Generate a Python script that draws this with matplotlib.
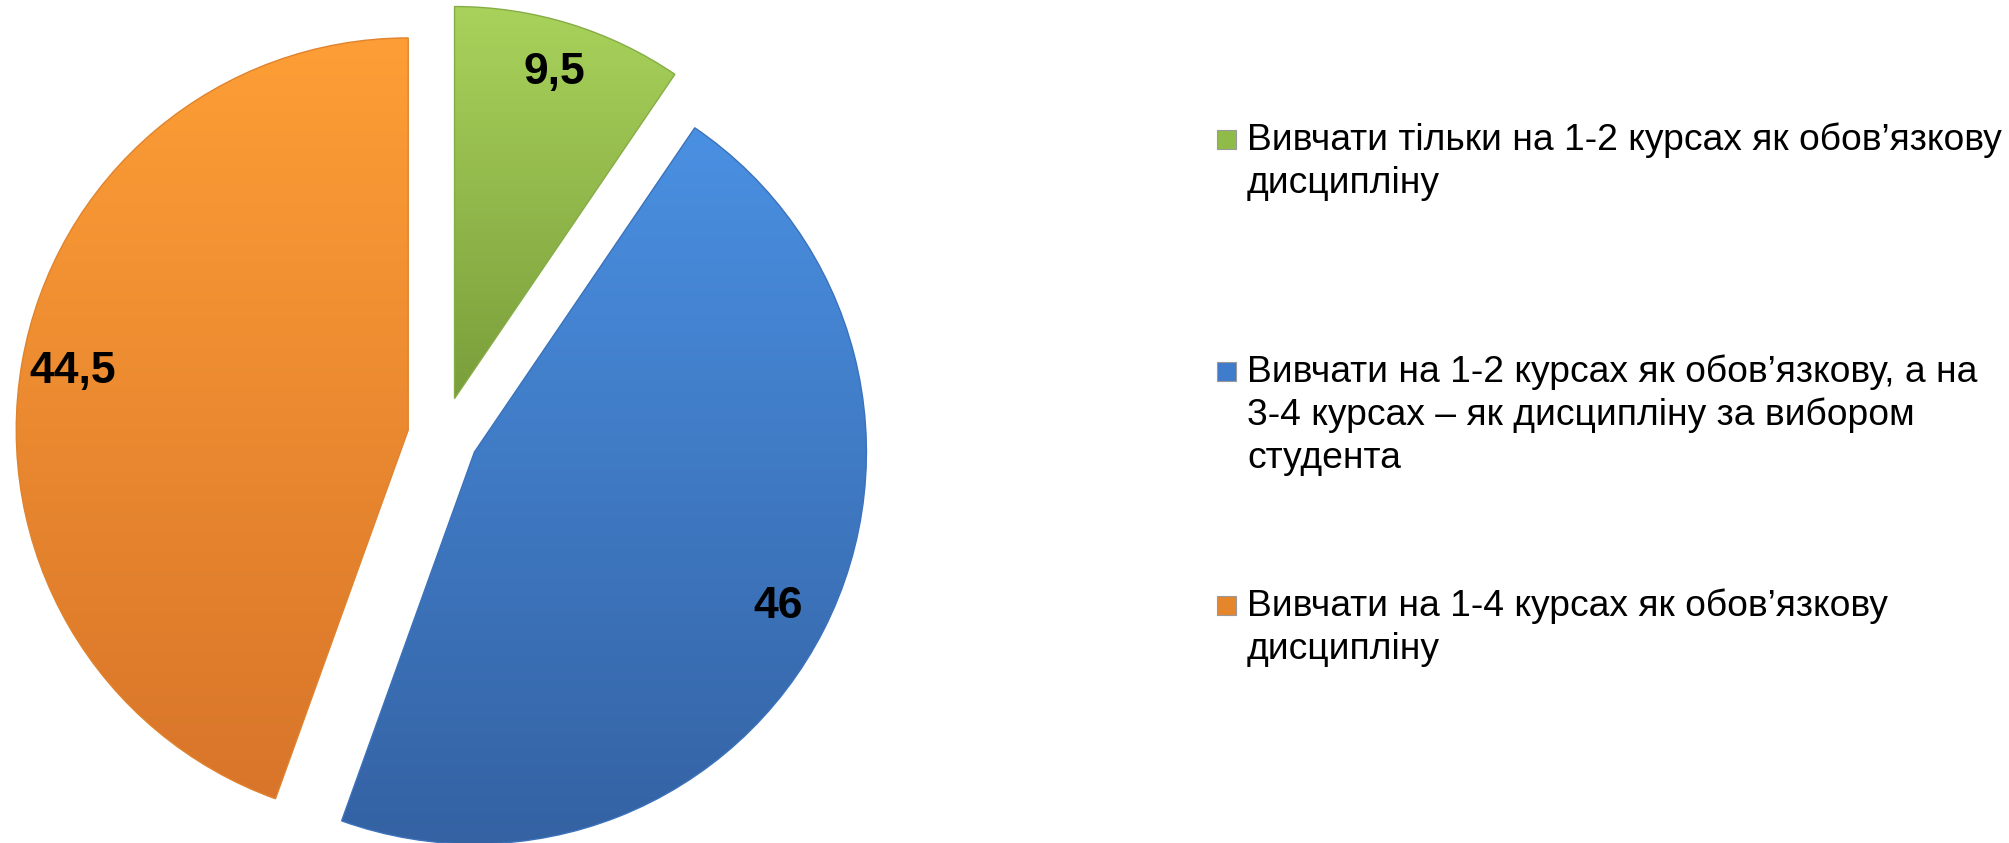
import numpy as np
import matplotlib.pyplot as plt
from matplotlib.colors import LinearSegmentedColormap
from matplotlib.patches import Rectangle

plt.rcParams['font.family'] = ['Liberation Sans', 'DejaVu Sans']

# дані
values = [9.5, 46, 44.5]
labels = ['Вивчати тільки на 1-2 курсах як обов’язкову\nдисципліну',
          'Вивчати на 1-2 курсах як обов’язкову, а на\n3-4 курсах – як дисципліну за вибором\nстудента',
          'Вивчати на 1-4 курсах як обов’язкову\nдисципліну']
top_colors = ['#a8d25b', '#4a90e2', '#fd9e36']
bottom_colors = ['#7a9e3b', '#3462a3', '#d8752a']
edge_colors = ['#86ad45', '#3b72bb', '#e0832e']
marker_colors = ['#8fbc48', '#3f7ccb', '#e5852c']
explode = [0.1, 0.09, 0.09]

W, H = 2009, 843
fig = plt.figure(figsize=(W / 100, H / 100), dpi=100)

# центр і радіус круга в пікселях
R = 392
cx, cy = 443, 436
ax = fig.add_axes([0, 0, 1, 1])

wedges, texts, autotexts = ax.pie(
    values, explode=explode, startangle=90, counterclock=False,
    autopct=lambda p: f'{round(p, 1):g}'.replace('.', ','), pctdistance=0.87,
    textprops=dict(fontsize=32, fontweight='bold', color='black'))

# градієнтна заливка секторів
grad = np.linspace(0, 1, 256).reshape(-1, 1)
for i, w in enumerate(wedges):
    ext = w.get_path().get_extents()
    cmap = LinearSegmentedColormap.from_list('g%d' % i, [top_colors[i], bottom_colors[i]])
    im = ax.imshow(grad, extent=[ext.x0, ext.x1, ext.y0, ext.y1], origin='upper',
                   cmap=cmap, aspect='auto', interpolation='bicubic', zorder=1)
    im.set_clip_path(w)
    w.set_facecolor('none')
    w.set_edgecolor(edge_colors[i])
    w.set_linewidth(1.0)
    w.set_zorder(2)
for t in autotexts:
    t.set_zorder(5)

ax.set_xlim(-cx / R, (W - cx) / R)
ax.set_ylim(-(H - cy) / R, cy / R)
ax.set_aspect('equal')
ax.axis('off')

# легенда (базові лінії першого рядка кожного пункту, px від верху)
baselines = [150, 382, 616]
line_step = 43
for i, lab in enumerate(labels):
    b = baselines[i]
    fig.patches.append(Rectangle((1217 / W, 1 - (b - 1) / H), 19 / W, 19 / H,
                                 transform=fig.transFigure, facecolor=marker_colors[i],
                                 edgecolor='#9a9a9a', linewidth=0.8))
    for k, line in enumerate(lab.split('\n')):
        fig.text(1247 / W, 1 - (b + k * line_step) / H, line, fontsize=26.8,
                 va='baseline', ha='left', color='black')

fig.savefig('out.png', dpi=100)
